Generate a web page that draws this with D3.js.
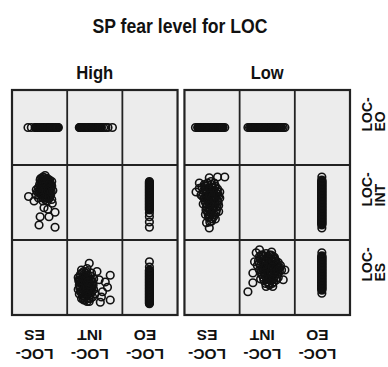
<!DOCTYPE html>
<html>
<head>
<meta charset="utf-8">
<style>
  body { margin: 0; background: #fff; }
  text { font-family: "Liberation Sans", Arial, sans-serif; fill: #111; }
</style>
</head>
<body>
<div id="graph"></div>
<script src="https://d3js.org/d3.v7.min.js"></script>
<script>
const WIDTH = 388, HEIGHT = 367;

const title = "SP fear level for LOC";
const groups = ["High", "Low"];
const colVars = ["LOC-ES", "LOC-INT", "LOC-EO"];   // left to right
const rowVars = ["LOC-EO", "LOC-INT", "LOC-ES"];   // top to bottom

// points of each cell as [x, y] on a 0-100 scale (x = column variable, y = row variable)
const highEoEs = [[29,50],[35,50],[42,50],[43,50],[44,50],[45,50],[46,50],[47,50],[48,50],[49,50],[50,50],[51,50],[52,50],[53,50],[54,50],[55,50],[56,50],[57,50],[58,50],[59,50],[60,50],[61,50],[62,50],[63,50],[64,50],[65,50],[66,50],[67,50],[68,50],[69,50],[70,50],[71,50],[72,50],[73,50],[74,50],[75,50],[76,50],[77,50],[78,50],[79,50],[80,50],[81,50],[82,50],[83,50],[84,50]];
const highEoInt = [[22,50],[23,50],[24,50],[25,50],[26,50],[27,50],[28,50],[29,50],[30,50],[31,50],[32,50],[33,50],[34,50],[35,50],[36,50],[37,50],[38,50],[39,50],[40,50],[41,50],[42,50],[43,50],[44,50],[45,50],[46,50],[47,50],[48,50],[49,50],[50,50],[51,50],[52,50],[53,50],[54,50],[55,50],[56,50],[57,50],[58,50],[59,50],[60,50],[61,50],[62,50],[66,50],[70,50],[74,50],[82,50]];
const highIntEs = [[52,82],[56,84],[60,80],[64,82],[68,80],[54,78],[58,76],[62,76],[66,76],[70,74],[50,74],[48,70],[54,72],[58,70],[62,72],[66,70],[70,68],[72,72],[52,66],[56,66],[60,64],[64,66],[68,64],[74,66],[50,62],[54,60],[58,58],[62,60],[66,60],[70,60],[60,54],[64,52],[56,52],[68,56],[72,54],[46,64],[44,60],[62,68],[58,62],[66,72],[60,72],[56,74],[64,78],[72,78],[48,56],
  [51,80],[55,81],[59,83],[63,80],[67,78],[53,76],[57,78],[61,78],[65,74],[69,76],[51,70],[55,68],[59,68],[63,70],[67,68],[71,70],[53,63],[57,64],[61,62],[65,63],[69,62],[55,57],[59,56],[63,57],[67,58],[61,66],[57,72],[65,67],[49,66],[71,64],
  [30,58],[44,67],[60,86],[51,31],[58,43],[78,37],[73,49],[49,20],[78,17],[67,31],[40,52],[65,41]];
const highIntEo = [[49,17],[49,24],[49,31],[49,36],[49,40],[49,41],[49,42],[49,43],[49,44],[49,45],[49,46],[49,47],[49,48],[49,49],[49,50],[49,51],[49,52],[49,53],[49,54],[49,55],[49,56],[49,57],[49,58],[49,59],[49,60],[49,61],[49,62],[49,63],[49,64],[49,65],[49,66],[49,67],[49,68],[49,69],[49,70],[49,71],[49,72],[49,73],[49,74],[49,75],[49,76],[49,77],[49,78]];
const highEsInt = [[20,50],[22,44],[24,38],[26,32],[28,26],[30,20],[24,54],[28,50],[32,46],[36,42],[40,36],[44,30],[46,24],[34,56],[38,52],[30,40],[34,34],[38,28],[42,22],[36,18],[26,22],[22,28],[20,34],[24,46],[28,42],[32,30],[40,46],[44,40],[48,34],[42,52],[30,58],[26,60],[36,62],[32,24],[28,34],[34,48],[38,40],[46,44],[40,18],[50,28],[22,40],[30,50],[36,26],[44,56],[48,48],
  [21,46],[25,42],[29,38],[33,44],[37,36],[41,30],[45,36],[23,50],[27,56],[31,54],[35,52],[39,48],[43,46],[25,30],[29,28],[33,38],[37,32],[41,26],[27,46],[31,34],[35,28],[39,22],[43,34],[23,36],[47,40],[33,20],[29,22],[37,44],[41,40],[35,58],
  [40,69],[78,53],[58,47],[64,31],[78,20],[60,17],[73,37],[69,44],[54,58],[62,24]];
const highEsEo = [[49,15],[49,16],[49,17],[49,18],[49,19],[49,20],[49,21],[49,22],[49,23],[49,24],[49,25],[49,26],[49,27],[49,28],[49,29],[49,30],[49,31],[49,32],[49,33],[49,34],[49,35],[49,36],[49,37],[49,38],[49,39],[49,40],[49,41],[49,42],[49,43],[49,44],[49,45],[49,46],[49,47],[49,48],[49,49],[49,50],[49,51],[49,52],[49,53],[49,54],[49,55],[49,56],[49,57],[49,58],[49,59],[49,60],[49,64],[49,71]];

const lowEoEs = [[20,50],[24,50],[25,50],[26,50],[27,50],[28,50],[29,50],[30,50],[31,50],[32,50],[33,50],[34,50],[35,50],[36,50],[37,50],[38,50],[39,50],[40,50],[41,50],[42,50],[43,50],[44,50],[45,50],[46,50],[47,50],[48,50],[49,50],[50,50],[51,50],[52,50],[53,50],[54,50],[55,50],[56,50],[57,50],[58,50],[59,50],[60,50],[61,50],[62,50],[63,50],[64,50],[65,50],[66,50],[67,50],[68,50],[69,50],[70,50],[73,50]];
const lowEoInt = [[15,50],[18,50],[20,50],[21,50],[22,50],[23,50],[24,50],[25,50],[26,50],[27,50],[28,50],[29,50],[30,50],[31,50],[32,50],[33,50],[34,50],[35,50],[36,50],[37,50],[38,50],[39,50],[40,50],[41,50],[42,50],[43,50],[44,50],[45,50],[46,50],[47,50],[48,50],[49,50],[50,50],[51,50],[52,50],[53,50],[54,50],[55,50],[56,50],[57,50],[58,50],[59,50],[60,50],[61,50],[62,50],[63,50],[64,50],[65,50],[66,50],[67,50],[68,50],[69,50],[70,50],[71,50],[72,50],[73,50],[74,50],[75,50],[76,50],[79,50],[82,50]];
const lowIntEs = [[36,74],[42,76],[48,78],[54,76],[32,70],[38,68],[44,70],[50,70],[56,72],[60,68],[34,62],[40,62],[46,64],[52,62],[58,62],[62,58],[36,56],[42,56],[48,58],[54,56],[60,52],[38,50],[44,50],[50,52],[56,48],[62,46],[40,44],[46,44],[52,42],[58,40],[42,38],[48,36],[54,34],[44,30],[50,28],[46,24],[38,34],[56,28],[62,38],[34,48],[30,60],[64,64],[52,48],[46,40],[50,66],[44,58],
  [37,72],[43,73],[49,74],[55,70],[35,66],[41,66],[47,68],[53,66],[59,65],[39,59],[45,60],[51,58],[57,58],[37,53],[43,53],[49,55],[55,52],[61,50],[41,47],[47,47],[53,45],[59,44],[45,41],[51,39],[57,36],[47,33],[53,31],[49,25],[43,34],[39,40],[61,61],[33,58],
  [73,84],[45,83],[27,69],[21,64],[45,16],[40,23],[64,56],[27,76],[60,84]];
const lowIntEo = [[49,16],[49,20],[49,21],[49,22],[49,23],[49,24],[49,25],[49,26],[49,27],[49,28],[49,29],[49,30],[49,31],[49,32],[49,33],[49,34],[49,35],[49,36],[49,37],[49,38],[49,39],[49,40],[49,41],[49,42],[49,43],[49,44],[49,45],[49,46],[49,47],[49,48],[49,49],[49,50],[49,51],[49,52],[49,53],[49,54],[49,55],[49,56],[49,57],[49,58],[49,59],[49,60],[49,61],[49,62],[49,63],[49,64],[49,65],[49,66],[49,67],[49,68],[49,69],[49,70],[49,71],[49,72],[49,73],[49,74],[49,75],[49,76],[49,77],[49,78],[49,79],[49,80],[49,84]];
const lowEsInt = [[36,78],[42,80],[48,82],[54,80],[60,78],[34,72],[40,74],[46,74],[52,74],[58,72],[64,74],[70,70],[38,66],[44,68],[50,66],[56,66],[62,68],[68,64],[74,66],[36,60],[42,60],[48,60],[54,58],[60,60],[66,58],[72,58],[40,54],[46,52],[52,52],[58,52],[64,52],[70,50],[44,46],[50,44],[56,46],[62,44],[48,38],[54,40],[60,38],[32,66],[76,60],[66,72],[58,84],[38,48],[52,70],[46,56],
  [39,80],[45,78],[51,78],[57,80],[63,77],[37,75],[43,71],[49,71],[55,69],[61,71],[67,68],[41,63],[47,64],[53,62],[59,64],[65,62],[71,62],[39,57],[45,57],[51,55],[57,55],[63,56],[69,55],[43,50],[49,48],[55,49],[61,48],[67,47],[47,42],[53,42],[59,42],[73,63],[35,69],
  [15,31],[24,43],[24,56],[30,83],[82,60],[79,47],[36,87],[27,71]];
const lowEsEo = [[49,29],[49,33],[49,34],[49,35],[49,36],[49,37],[49,38],[49,39],[49,40],[49,41],[49,42],[49,43],[49,44],[49,45],[49,46],[49,47],[49,48],[49,49],[49,50],[49,51],[49,52],[49,53],[49,54],[49,55],[49,56],[49,57],[49,58],[49,59],[49,60],[49,61],[49,62],[49,63],[49,64],[49,65],[49,66],[49,67],[49,68],[49,69],[49,70],[49,71],[49,72],[49,73],[49,74],[49,75],[49,76],[49,77],[49,78],[49,79],[49,83]];

const cellData = new Map([
  ["High|LOC-EO|LOC-ES", highEoEs], ["High|LOC-EO|LOC-INT", highEoInt],
  ["High|LOC-INT|LOC-ES", highIntEs], ["High|LOC-INT|LOC-EO", highIntEo],
  ["High|LOC-ES|LOC-INT", highEsInt], ["High|LOC-ES|LOC-EO", highEsEo],
  ["Low|LOC-EO|LOC-ES", lowEoEs], ["Low|LOC-EO|LOC-INT", lowEoInt],
  ["Low|LOC-INT|LOC-ES", lowIntEs], ["Low|LOC-INT|LOC-EO", lowIntEo],
  ["Low|LOC-ES|LOC-INT", lowEsInt], ["Low|LOC-ES|LOC-EO", lowEsEo]
]);

const svg = d3.select("#graph").append("svg")
  .attr("width", WIDTH).attr("height", HEIGHT);

// panel / cell layout
const panelX = d3.scaleBand().domain(groups).range([12, 350]).paddingInner(0.04);
const rowY = d3.scaleBand().domain(rowVars).range([90, 315]);
const colX = d3.scaleBand().domain(colVars).range([0, panelX.bandwidth()]);
const cx = d3.scaleLinear().domain([0, 100]).range([0, colX.bandwidth()]);
const cy = d3.scaleLinear().domain([0, 100]).range([rowY.bandwidth(), 0]);

svg.append("text")
  .attr("x", 180).attr("y", 33)
  .attr("text-anchor", "middle")
  .attr("font-size", 20).attr("font-weight", "bold")
  .attr("textLength", 175).attr("lengthAdjust", "spacingAndGlyphs")
  .text(title);

groups.forEach(g => {
  const px = panelX(g);
  const panel = svg.append("g").attr("transform", `translate(${px},0)`);

  panel.append("text")
    .attr("x", panelX.bandwidth() / 2).attr("y", 78.5)
    .attr("text-anchor", "middle")
    .attr("font-size", 19).attr("font-weight", "bold")
    .attr("textLength", g === "High" ? 37 : 33).attr("lengthAdjust", "spacingAndGlyphs")
    .text(g);

  rowVars.forEach(rv => {
    colVars.forEach(cv => {
      const cell = panel.append("g")
        .attr("transform", `translate(${colX(cv)},${rowY(rv)})`);
      cell.append("rect")
        .attr("width", colX.bandwidth()).attr("height", rowY.bandwidth())
        .attr("fill", "#ececec");
      const pts = cellData.get(`${g}|${rv}|${cv}`) || [];
      cell.selectAll("circle").data(pts).enter().append("circle")
        .attr("cx", d => cx(d[0]))
        .attr("cy", d => cy(d[1]))
        .attr("r", 3.8)
        .attr("fill", "none")
        .attr("stroke", "#111")
        .attr("stroke-width", 1.6);
    });
  });

  // inner dividers
  colVars.slice(1).forEach(cv => {
    panel.append("line")
      .attr("x1", colX(cv)).attr("x2", colX(cv))
      .attr("y1", 90).attr("y2", 315)
      .attr("stroke", "#222").attr("stroke-width", 1.8);
  });
  rowVars.slice(1).forEach(rv => {
    panel.append("line")
      .attr("x1", 0).attr("x2", panelX.bandwidth())
      .attr("y1", rowY(rv)).attr("y2", rowY(rv))
      .attr("stroke", "#222").attr("stroke-width", 1.8);
  });
  panel.append("rect")
    .attr("width", panelX.bandwidth()).attr("height", 225).attr("y", 90)
    .attr("fill", "none").attr("stroke", "#222").attr("stroke-width", 2.2);

  // bottom labels, upside down
  colVars.forEach(cv => {
    const [a, b] = cv.split("-");
    const t = panel.append("text")
      .attr("transform", `translate(${colX(cv) + colX.bandwidth() / 2 - 5},349) rotate(180)`)
      .attr("text-anchor", "middle")
      .attr("font-size", 15.5).attr("font-weight", "bold");
    t.append("tspan").attr("x", 0).attr("y", 0).text(a + "-");
    t.append("tspan").attr("x", 0).attr("y", 19).text(b);
  });
});

// right-side row labels
rowVars.forEach(rv => {
  const [a, b] = rv.split("-");
  const t = svg.append("text")
    .attr("transform", `translate(372,${rowY(rv) + rowY.bandwidth() / 2 + 4}) rotate(-90)`)
    .attr("font-size", 14).attr("font-weight", "bold");
  t.append("tspan").attr("x", 0).attr("y", 0).text(a + "-");
  t.append("tspan").attr("x", 0).attr("y", 13).text(b);
});
</script>
</body>
</html>
